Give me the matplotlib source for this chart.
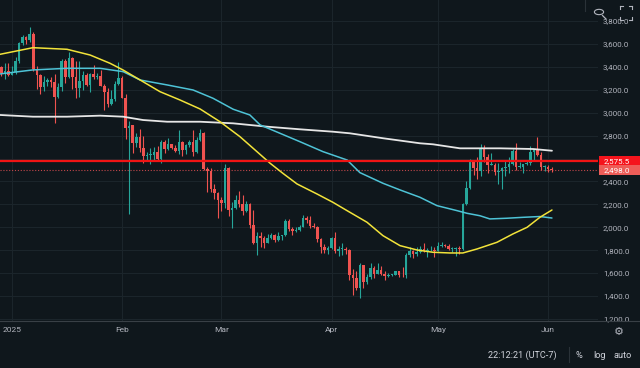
import matplotlib
matplotlib.use('Agg')
import matplotlib.pyplot as plt
import numpy as np
import pandas as pd
from matplotlib.patches import Rectangle, Circle
from matplotlib.lines import Line2D

# ---------------- data (ETH/USD daily) ----------------
dates = pd.date_range('2024-12-28', '2025-06-02', freq='D')

opens = [
    3333, 3396, 3350, 3360,
    3332, 3354, 3452, 3608, 3657, 3635, 3687, 3380, 3325, 3220, 3265, 3282, 3267, 3137, 3226, 3450,
    3310, 3475, 3310, 3215, 3280, 3330, 3245, 3335, 3310, 3318, 3232, 3180, 3078, 3115, 3250,
    3300, 3130, 2870, 2890, 2735, 2785, 2690, 2620, 2630, 2630, 2660, 2600, 2740, 2680, 2725, 2695,
    2662, 2745, 2670, 2715, 2740, 2660, 2760, 2820, 2510, 2490, 2330, 2300,
    2235, 2215, 2520, 2150, 2170, 2240, 2200, 2140, 2200, 2020, 1865, 1920, 1910, 1860, 1910, 1935,
    1890, 1925, 1930, 2055, 1985, 1965, 1980, 2005, 2080, 2065, 2010, 2000, 1895, 1825, 1805,
    1820, 1905, 1795, 1815, 1815, 1805, 1580, 1555, 1470, 1670, 1520, 1570, 1645, 1595, 1625, 1590,
    1575, 1585, 1585, 1615, 1585, 1580, 1755, 1795, 1770, 1785, 1815, 1795, 1800, 1800,
    1795, 1840, 1845, 1835, 1810, 1815, 1815, 1810, 2205, 2345, 2580, 2515, 2490, 2680, 2610, 2545,
    2545, 2480, 2495, 2520, 2525, 2550, 2665, 2525, 2530, 2550, 2565, 2660, 2685, 2630, 2530,
    2530, 2510,
]
highs = [
    3420, 3410, 3430, 3430,
    3405, 3490, 3620, 3675, 3670, 3745, 3700, 3410, 3340, 3320, 3300, 3310, 3340, 3260, 3470, 3470,
    3525, 3490, 3450, 3450, 3360, 3350, 3350, 3420, 3350, 3370, 3250, 3215, 3200, 3280, 3440,
    3320, 3160, 2930, 2890, 2825, 2855, 2800, 2660, 2690, 2700, 2710, 2760, 2760, 2780, 2730,
    2720, 2845, 2750, 2730, 2765, 2850, 2790, 2855, 2830, 2530, 2520, 2380, 2310,
    2260, 2550, 2525, 2220, 2285, 2320, 2280, 2230, 2210, 2150, 1960, 1960, 1920, 1940, 1950, 1945,
    1960, 1935, 2070, 2070, 2000, 2000, 2020, 2105, 2100, 2095, 2035, 2010, 1905, 1850, 1840,
    1915, 1955, 1840, 1860, 1830, 1815, 1640, 1620, 1690, 1675, 1590, 1690, 1660, 1690, 1660,
    1620, 1600, 1595, 1620, 1620, 1655, 1780, 1830, 1800, 1825, 1835, 1860, 1820, 1840, 1830,
    1875, 1870, 1850, 1850, 1830, 1830, 1840, 2215, 2400, 2595, 2590, 2610, 2725, 2720, 2640, 2650,
    2560, 2560, 2525, 2580, 2610, 2680, 2735, 2570, 2555, 2590, 2710, 2680, 2790, 2660, 2540,
    2545, 2530,
]
lows = [
    3315, 3320, 3290, 3320,
    3325, 3340, 3430, 3590, 3600, 3620, 3360, 3210, 3160, 3190, 3230, 3220, 2910, 3130, 3190, 3260,
    3300, 3210, 3130, 3140, 3200, 3230, 3180, 3290, 3290, 3230, 3020, 3050, 3070, 3100, 3240,
    3130, 2770, 2120, 2650, 2700, 2660, 2560, 2580, 2550, 2590, 2590, 2560, 2650, 2670, 2680,
    2660, 2640, 2620, 2640, 2700, 2620, 2650, 2750, 2500, 2310, 2310, 2250, 2080,
    2140, 2170, 2100, 1990, 2160, 2180, 2110, 2130, 1990, 1850, 1760, 1830, 1820, 1860, 1900, 1870,
    1880, 1885, 1925, 1970, 1935, 1960, 1970, 2000, 2035, 1995, 1990, 1870, 1780, 1780, 1770,
    1810, 1780, 1750, 1760, 1770, 1540, 1410, 1450, 1385, 1470, 1505, 1545, 1560, 1590, 1580,
    1540, 1565, 1575, 1580, 1570, 1565, 1560, 1740, 1730, 1750, 1780, 1785, 1740, 1790, 1740,
    1790, 1825, 1825, 1800, 1785, 1750, 1770, 1805, 2195, 2330, 2460, 2420, 2450, 2570, 2470, 2540,
    2460, 2380, 2330, 2450, 2470, 2545, 2500, 2520, 2470, 2540, 2540, 2590, 2620, 2500, 2490,
    2480, 2480,
]
closes = [
    3396, 3350, 3360, 3332,
    3354, 3452, 3608, 3657, 3635, 3687, 3380, 3325, 3220, 3265, 3282, 3267, 3137, 3226, 3450, 3310,
    3475, 3310, 3215, 3280, 3330, 3245, 3335, 3310, 3318, 3232, 3180, 3078, 3115, 3250, 3300,
    3130, 2870, 2880, 2735, 2785, 2690, 2620, 2630, 2630, 2660, 2600, 2740, 2680, 2725, 2695,
    2662, 2745, 2670, 2715, 2740, 2660, 2760, 2820, 2510, 2490, 2330, 2300, 2235,
    2215, 2520, 2150, 2170, 2240, 2200, 2140, 2200, 2020, 1865, 1920, 1910, 1860, 1910, 1935, 1890,
    1925, 1930, 2055, 1985, 1965, 1980, 2005, 2080, 2065, 2010, 2000, 1895, 1825, 1805, 1820,
    1905, 1795, 1815, 1815, 1805, 1580, 1555, 1470, 1670, 1520, 1570, 1645, 1595, 1625, 1590,
    1575, 1585, 1585, 1615, 1585, 1580, 1755, 1795, 1770, 1785, 1815, 1795, 1800, 1800, 1795,
    1840, 1845, 1835, 1810, 1815, 1815, 1810, 2205, 2345, 2580, 2515, 2490, 2680, 2610, 2545, 2545,
    2480, 2495, 2520, 2525, 2550, 2665, 2525, 2530, 2550, 2565, 2660, 2685, 2630, 2530, 2530,
    2510, 2498,
]

# moving averages (days since 2025-01-01, price)
ma_fast_day = [-3.4, 5.9, 15.5, 22, 27.6, 31.3, 36.1, 41.7, 47.3, 53, 58.6, 64.2, 69, 72.7, 76.3,
               80.3, 85.9, 90.4, 94.4, 100, 104.5, 109.3, 114.1, 118.6, 123.4, 127, 131, 136.6,
               141.1, 145.1, 148.7, 152.1]
ma_fast_val = [3509, 3567, 3553, 3503, 3431, 3372, 3285, 3183, 3111, 3032, 2921, 2791, 2660, 2559,
               2471, 2378, 2291, 2218, 2145, 2044, 1927, 1840, 1802, 1782, 1776, 1776, 1811, 1869,
               1942, 2000, 2087, 2151]
ma_mid_day = [-3.4, 5.9, 15.5, 24.8, 31.3, 36.1, 43.7, 51, 56.6, 62.3, 67, 69.9, 75.5, 81.1, 87.6,
              94.4, 98, 104.5, 109.3, 114.9, 119.7, 125.4, 128.2, 131.8, 134.6, 139.4, 143.9,
              148.7, 152.1]
ma_mid_val = [3338, 3373, 3387, 3387, 3358, 3285, 3242, 3198, 3126, 3030, 2980, 2893, 2820, 2747,
              2660, 2587, 2477, 2384, 2326, 2262, 2189, 2145, 2122, 2101, 2073, 2079, 2087, 2094,
              2081]
ma_slow_day = [-3.4, 5.9, 15.5, 24.8, 31.3, 36.9, 43.7, 53, 62.3, 71.8, 81.1, 90.4, 95.2, 104.5,
               114.9, 118.6, 126.2, 137.5, 146.8, 152.1]
ma_slow_val = [2980, 2965, 2965, 2974, 2965, 2936, 2921, 2921, 2907, 2878, 2855, 2834, 2820, 2777,
               2733, 2724, 2689, 2689, 2683, 2668]

hline_price = 2575.5
last_price = 2498.0
price_ticks = list(range(1200, 3801, 200))
hidden_ticks = [2600]          # covered by the price-label box in the reference
month_labels = ['2025', 'Feb', 'Mar', 'Apr', 'May', 'Jun']
month_dates = ['2025-01-01', '2025-02-01', '2025-03-01', '2025-04-01', '2025-05-01', '2025-06-01']

# ---------------- style ----------------
BG = '#0f171c'
GRID = '#1b252b'
TXT = '#b2b5be'
UP = '#26a69a'
DN = '#ef5350'
plt.rcParams['font.family'] = ['Roboto', 'DejaVu Sans']

W, H = 640, 368
fig = plt.figure(figsize=(6.4, 3.68), dpi=100, facecolor=BG)
plot_w, plot_h = 598, 321
ax = fig.add_axes([0, (H - plot_h) / H, plot_w / W, plot_h / H])
ax.set_facecolor(BG)
ax.set_axisbelow(True)

t0 = pd.Timestamp('2025-01-01')
x = np.array([(d - t0).days for d in dates], dtype=float)
o = np.array(opens, float); h = np.array(highs, float)
l = np.array(lows, float); c = np.array(closes, float)
up = c >= o
col = np.where(up, UP, DN)

ax.vlines(x, l, h, colors=col, linewidth=0.8, zorder=3)
body_lo = np.minimum(o, c)
body_h = np.maximum(np.abs(c - o), 6)
ax.bar(x, body_h, bottom=body_lo, width=0.72, color=col, linewidth=0, zorder=4)

ax.plot(ma_slow_day, ma_slow_val, color='#e6e6e6', lw=1.3, zorder=5, solid_capstyle='round')
ax.plot(ma_mid_day, ma_mid_val, color='#4ec3d6', lw=1.1, zorder=5, solid_capstyle='round')
ax.plot(ma_fast_day, ma_fast_val, color='#f2e33a', lw=1.1, zorder=5, solid_capstyle='round')

ax.axhline(hline_price, color='#f01414', lw=1.6, zorder=6)
ax.axhline(last_price, color='#c0474a', lw=0.8, ls=(0, (1, 1.6)), zorder=2)

ax.set_xlim(-3.38, 165.07)
ax.set_ylim(1182.5, 3983)

month_x = [(pd.Timestamp(m) - t0).days for m in month_dates]
ax.set_xticks(month_x)
ax.set_xticklabels(month_labels)
ax.set_yticks(price_ticks)
ax.set_yticklabels(['' if v in hidden_ticks else f'{v:,.1f}' for v in price_ticks])
ax.yaxis.tick_right()
ax.tick_params(axis='y', length=0, pad=3.6, labelsize=5.8, labelcolor=TXT)
ax.tick_params(axis='x', length=0, pad=4.5, labelsize=6.0, labelcolor=TXT)
for lab in ax.get_yticklabels():
    lab.set_horizontalalignment('left')
ax.grid(True, color=GRID, lw=0.8)
for s in ax.spines.values():
    s.set_visible(False)

# price label boxes
ytr = ax.get_yaxis_transform()
for p, bg in [(hline_price, '#f5141c'), (last_price, '#ee5d58')]:
    ax.add_patch(Rectangle((599 / plot_w, p - 46), 42 / plot_w, 92, transform=ytr,
                           facecolor=bg, edgecolor='none', clip_on=False, zorder=10))
    ax.text(604 / plot_w, p, f'{p:,.1f}', transform=ytr, color='white', fontsize=5.8,
            va='center', ha='left', clip_on=False, zorder=11)

# ---------------- chrome ----------------
def fx(px): return px / W
def fy(py): return 1 - py / H

fig.add_artist(Line2D([0, 1], [fy(321), fy(321)], transform=fig.transFigure, color='#394046', lw=0.8))
fig.add_artist(Line2D([fx(585), fx(585)], [fy(0), fy(11)], transform=fig.transFigure, color='#2a3238', lw=0.8))
fig.add_artist(Line2D([fx(569), fx(569)], [fy(347), fy(362)], transform=fig.transFigure, color='#2a3238', lw=0.8))

# magnifier icon
fig.add_artist(Circle((fx(599), fy(12)), 4.6 / W, transform=fig.transFigure, fill=False,
                      edgecolor=TXT, lw=0.8))
fig.add_artist(Line2D([fx(602.5), fx(606)], [fy(15.5), fy(19)], transform=fig.transFigure, color=TXT, lw=0.9))
# fullscreen icon
for cx, cy, dx, dy in [(620, 6, 1, 1), (632, 6, -1, 1), (620, 20, 1, -1), (632, 20, -1, -1)]:
    fig.add_artist(Line2D([fx(cx), fx(cx + 3 * dx)], [fy(cy), fy(cy)], transform=fig.transFigure, color=TXT, lw=0.8))
    fig.add_artist(Line2D([fx(cx), fx(cx)], [fy(cy), fy(cy + 3 * dy)], transform=fig.transFigure, color=TXT, lw=0.8))

fig.text(fx(619), fy(332), '\u2699', color=TXT, fontsize=8, ha='center', va='center', family='DejaVu Sans')

fig.text(fx(488), fy(355), '22:12:21 (UTC-7)', color='#d1d4dc', fontsize=6.6, ha='left', va='center')
fig.text(fx(579), fy(355), '%', color='#d1d4dc', fontsize=6.6, ha='center', va='center')
fig.text(fx(599), fy(355), 'log', color='#d1d4dc', fontsize=6.6, ha='center', va='center')
fig.text(fx(623), fy(355), 'auto', color='#d1d4dc', fontsize=6.6, ha='center', va='center')

fig.savefig('out.png', dpi=100, facecolor=BG)
